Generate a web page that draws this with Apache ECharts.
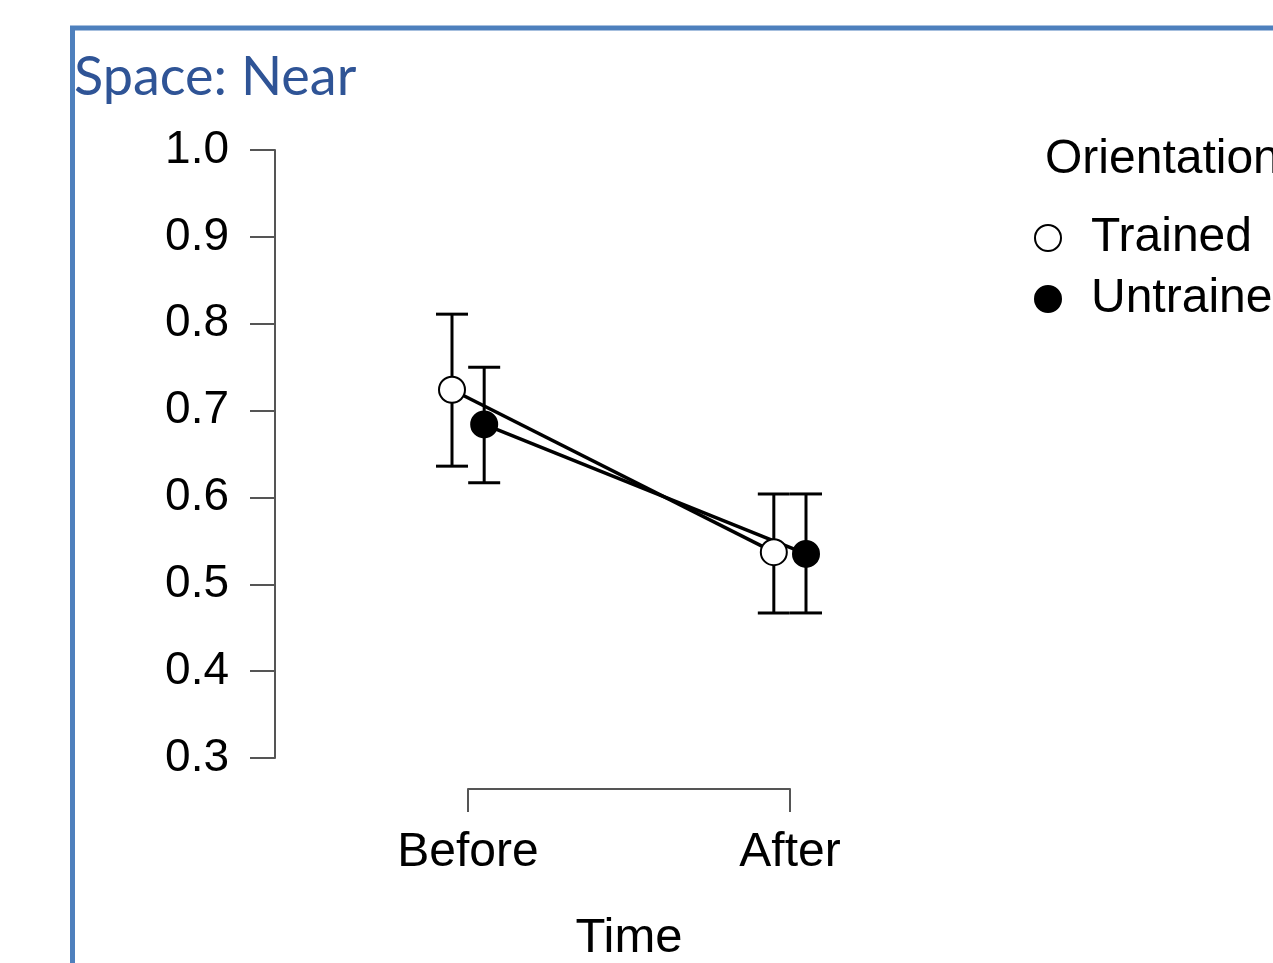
<!DOCTYPE html>
<html>
<head>
<meta charset="utf-8">
<title>Space: Near</title>
<script src="https://cdn.jsdelivr.net/npm/echarts@6/dist/echarts.min.js"></script>
<style>
	html, body { margin: 0; padding: 0; background: #fff; }
	#pictrue1 { width: 1273px; height: 963px; }
</style>
</head>
<body>
<div id="pictrue1"></div>
<script>
//---------------------------数据------------------------
var timeLabels = ['Before', 'After'];
var timeIndex = [1, 2]; // x position of each time point
var trainedMean = [0.724, 0.537];
var trainedLow = [0.636, 0.467];
var trainedHigh = [0.811, 0.604];
var untrainedMean = [0.684, 0.535];
var untrainedLow = [0.617, 0.467];
var untrainedHigh = [0.750, 0.604];
var yMin = 0.3;
var yMax = 1.0;
var yStep = 0.1;

var DODGE = 0.05; // trained left, untrained right
var FONT = 'Liberation Sans';

function makePoints(means, shift) {
	var ret = [];
	for (var i = 0; i < means.length; i++) {
		ret.push([timeIndex[i] + shift, means[i]]);
	}
	return ret;
}

function makeBars(low, high, shift) {
	var ret = [];
	for (var i = 0; i < low.length; i++) {
		ret.push([timeIndex[i] + shift, low[i], high[i]]);
	}
	return ret;
}

function renderErrorBar(params, api) {
	var top = api.coord([api.value(0), api.value(2)]);
	var bottom = api.coord([api.value(0), api.value(1)]);
	var half = 16;
	var style = {
		stroke: '#000',
		lineWidth: 3,
		fill: null
	};
	return {
		type: 'group',
		children: [{
				type: 'line',
				shape: { x1: top[0], y1: top[1], x2: bottom[0], y2: bottom[1] },
				style: style
			},
			{
				type: 'line',
				shape: { x1: top[0] - half, y1: top[1], x2: top[0] + half, y2: top[1] },
				style: style
			},
			{
				type: 'line',
				shape: { x1: bottom[0] - half, y1: bottom[1], x2: bottom[0] + half, y2: bottom[1] },
				style: style
			}
		]
	};
}

function echartsSpaceNear() {
	var myChart = echarts.init(document.getElementById('pictrue1'));
	var option = {
		animation: false,
		backgroundColor: '#fff',
		title: [{
				text: 'Space: Near',
				left: 74,
				top: 49,
				padding: 0,
				textStyle: {
					fontFamily: 'Lato',
					fontSize: 54,
					fontWeight: 'normal',
					color: '#2f5496',
					lineHeight: 58
				}
			},
			{
				text: 'Orientation',
				left: 1045,
				top: 135,
				padding: 0,
				textStyle: {
					fontFamily: FONT,
					fontSize: 48,
					fontWeight: 'normal',
					color: '#000',
					lineHeight: 50
				}
			}
		],
		legend: {
			orient: 'vertical',
			left: 1034,
			top: 213,
			padding: 0,
			itemWidth: 76,
			itemHeight: 26,
			itemGap: 11,
			icon: 'circle',
			textStyle: {
				fontFamily: FONT,
				fontSize: 48,
				color: '#000',
				lineHeight: 50
			},
			data: [{
					name: 'Trained',
					itemStyle: { color: '#fff', borderColor: '#000', borderWidth: 2 }
				},
				{
					name: 'Untrained',
					itemStyle: { color: '#000', borderColor: '#000', borderWidth: 2 }
				}
			]
		},
		grid: [{
				left: 275,
				top: 150,
				width: 708,
				height: 608,
				outerBoundsMode: 'none'
			},
			{
				left: 468,
				width: 322,
				top: 700,
				bottom: 174,
				outerBoundsMode: 'none'
			}
		],
		xAxis: [{
				gridIndex: 0,
				type: 'value',
				min: 0.4,
				max: 2.6,
				show: false
			},
			{
				gridIndex: 1,
				type: 'category',
				boundaryGap: false,
				data: timeLabels,
				axisLine: {
					lineStyle: { color: '#555', width: 2 }
				},
				axisTick: {
					length: 23,
					lineStyle: { color: '#555', width: 2 }
				},
				axisLabel: {
					interval: 0,
					margin: 39,
					fontFamily: FONT,
					fontSize: 48,
					color: '#000',
					lineHeight: 50
				},
				name: 'Time',
				nameLocation: 'middle',
				nameGap: 124,
				nameTextStyle: {
					fontFamily: FONT,
					fontSize: 49,
					color: '#000',
					lineHeight: 50
				}
			}
		],
		yAxis: [{
				gridIndex: 0,
				type: 'value',
				min: yMin,
				max: yMax,
				interval: yStep,
				splitLine: { show: false },
				axisLine: {
					show: true,
					lineStyle: { color: '#555', width: 2 }
				},
				axisTick: {
					show: true,
					length: 25,
					lineStyle: { color: '#555', width: 2 }
				},
				axisLabel: {
					margin: 46,
					padding: [4, 0, 0, 0],
					fontFamily: FONT,
					fontSize: 46,
					color: '#000',
					formatter: function(v) {
						return v.toFixed(1);
					}
				}
			},
			{
				gridIndex: 1,
				type: 'value',
				show: false
			}
		],
		series: [{
				name: 'Trained bars',
				type: 'custom',
				renderItem: renderErrorBar,
				encode: { x: 0, y: [1, 2] },
				data: makeBars(trainedLow, trainedHigh, -DODGE),
				z: 2
			},
			{
				name: 'Untrained bars',
				type: 'custom',
				renderItem: renderErrorBar,
				encode: { x: 0, y: [1, 2] },
				data: makeBars(untrainedLow, untrainedHigh, DODGE),
				z: 2
			},
			{
				name: 'Trained line',
				type: 'line',
				symbol: 'none',
				lineStyle: { color: '#000', width: 3.5 },
				data: makePoints(trainedMean, -DODGE),
				z: 2
			},
			{
				name: 'Untrained line',
				type: 'line',
				symbol: 'none',
				lineStyle: { color: '#000', width: 3.5 },
				data: makePoints(untrainedMean, DODGE),
				z: 2
			},
			{
				name: 'Trained',
				type: 'scatter',
				symbol: 'circle',
				symbolSize: 26,
				itemStyle: { color: '#fff', borderColor: '#000', borderWidth: 2, opacity: 1 },
				data: makePoints(trainedMean, -DODGE),
				z: 3
			},
			{
				name: 'Untrained',
				type: 'scatter',
				symbol: 'circle',
				symbolSize: 26,
				itemStyle: { color: '#000', borderColor: '#000', borderWidth: 2, opacity: 1 },
				data: makePoints(untrainedMean, DODGE),
				z: 3
			}
		],
		graphic: [{
			type: 'rect', // blue slide frame, runs off the right and bottom edges
			shape: { x: 72.5, y: 28, width: 1400, height: 1200 },
			style: { fill: null, stroke: '#4e80bd', lineWidth: 5 },
			silent: true
		}]
	};
	myChart.setOption(option);
}

echartsSpaceNear();
</script>
</body>
</html>
